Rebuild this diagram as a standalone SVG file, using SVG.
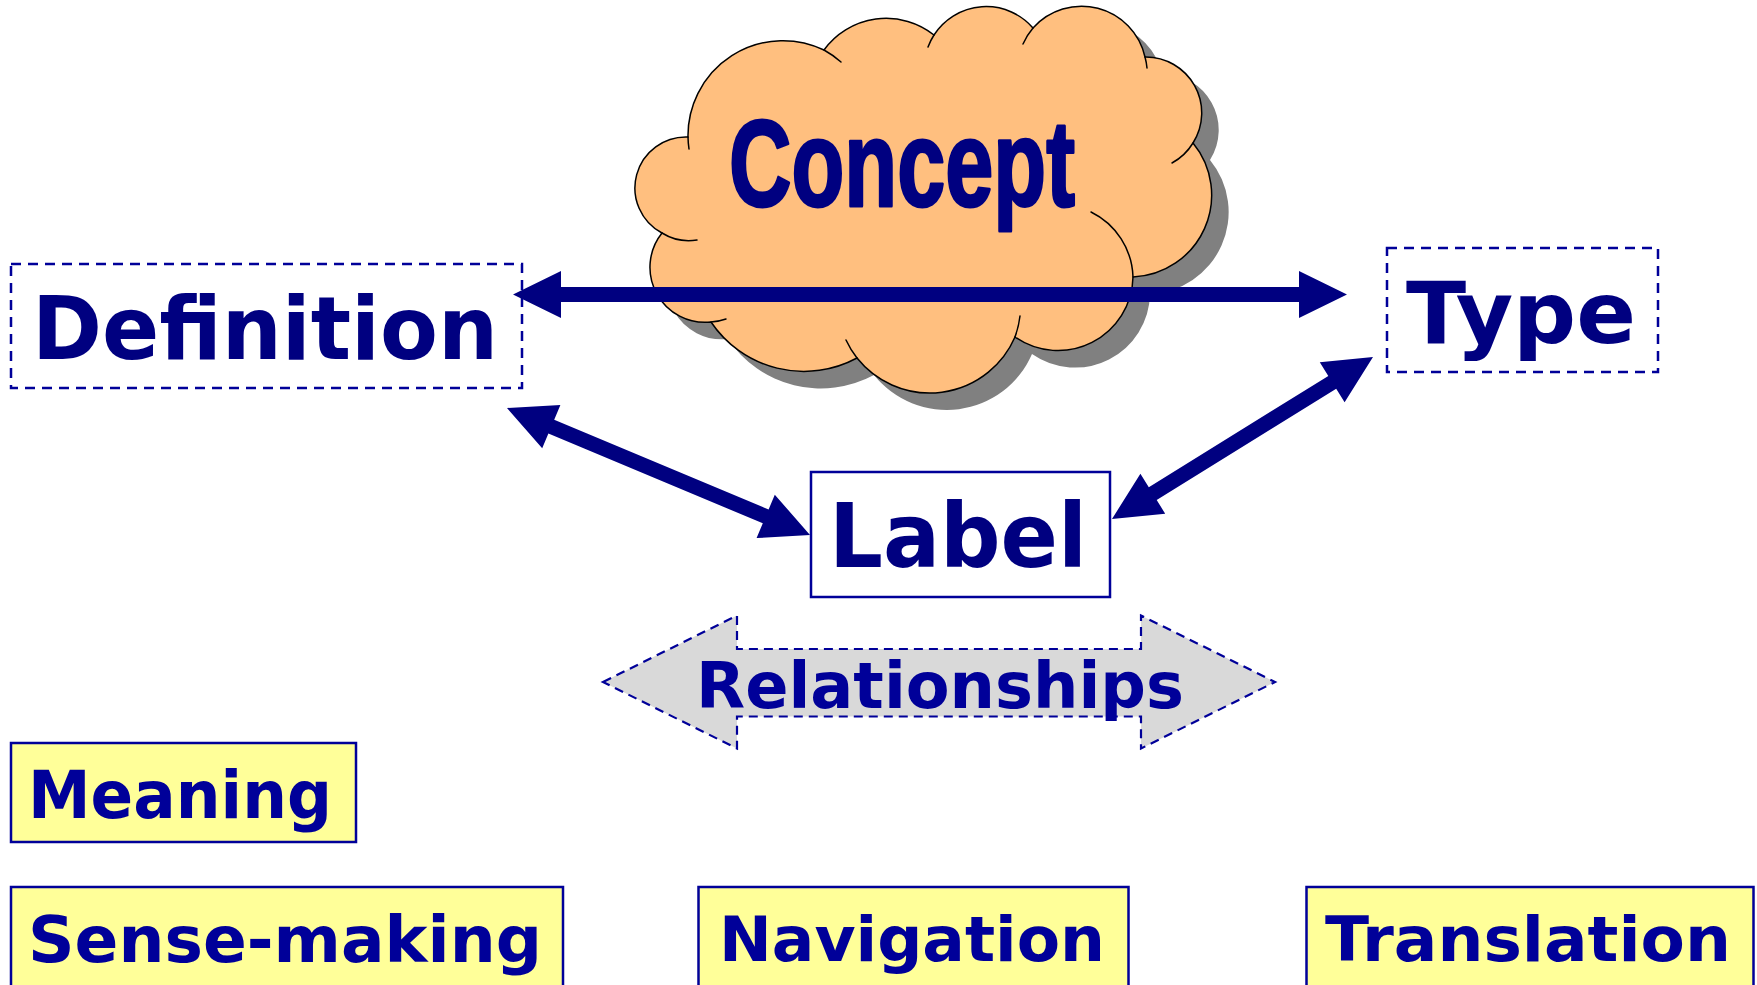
<svg xmlns="http://www.w3.org/2000/svg" width="1757" height="985" viewBox="0 0 1757 985">
  <style>
    .t { font-family: "DejaVu Sans", Verdana, sans-serif; font-weight: bold; }
    .navy { fill: #000080; }
    .blue { fill: #000099; }
    .dashbox { fill: none; stroke: #000099; stroke-width: 2.5; stroke-dasharray: 10 7; }
    .ybox { fill: #FFFF99; stroke: #000099; stroke-width: 2.5; }
    .arrow { fill: #000080; stroke: none; }
    .hook { fill: none; stroke: #000000; stroke-width: 1.5; stroke-linecap: round; }
  </style>
  <defs>
    <path id="cloudShape" d="M688,137 A95,95 0 0 1 824,50 A77,77 0 0 1 934,35 A62,62 0 0 1 1033,28 A65,65 0 0 1 1145,57 A56,56 0 0 1 1193,143 A82,82 0 0 1 1133,277 A75,75 0 0 1 1015,337 A93,93 0 0 1 857,358 A112,112 0 0 1 711,322 A55,55 0 0 1 662,233 A51,51 0 0 1 688,137 Z"/>
  </defs>
  <rect x="0" y="0" width="1757" height="985" fill="#FFFFFF"/>

  <g id="concept">
    <use href="#cloudShape" transform="translate(17,17)" fill="#808080"/>
    <use href="#cloudShape" fill="#FFBF7F" stroke="#000000" stroke-width="1.5"/>
    <path class="hook" d="M688,137 A95,95 0 0 0 689,149"/>
    <path class="hook" d="M824,50 A95,95 0 0 1 841,62"/>
    <path class="hook" d="M934,35 A62,62 0 0 0 928,47"/>
    <path class="hook" d="M1033,28 A65,65 0 0 0 1023,44"/>
    <path class="hook" d="M1145,57 A65,65 0 0 1 1147,68"/>
    <path class="hook" d="M1193,143 A56,56 0 0 1 1172,163"/>
    <path class="hook" d="M1133,277 A75,75 0 0 0 1091,212"/>
    <path class="hook" d="M1015,337 A93,93 0 0 0 1020,316"/>
    <path class="hook" d="M857,358 A93,93 0 0 1 846,340"/>
    <path class="hook" d="M711,322 A55,55 0 0 0 726,319"/>
    <path class="hook" d="M662,233 A51,51 0 0 0 697,240"/>
    <text x="729" y="206" font-family="'Liberation Sans', Arial, sans-serif" font-weight="bold" font-size="123" textLength="346" lengthAdjust="spacingAndGlyphs" fill="#000080" stroke="#000080" stroke-width="3" stroke-linejoin="round">Concept</text>
  </g>

  <g id="definition">
    <rect class="dashbox" x="11" y="264" width="511" height="124"/>
    <text class="t navy" x="32" y="359" font-size="88" textLength="466" lengthAdjust="spacingAndGlyphs">Definition</text>
  </g>

  <g id="type">
    <rect class="dashbox" x="1387" y="248" width="271" height="124"/>
    <text class="t navy" x="1406" y="343" font-size="86" textLength="230" lengthAdjust="spacingAndGlyphs">Type</text>
  </g>

  <g id="label">
    <rect x="811" y="472" width="299" height="125" fill="#FFFFFF" stroke="#000099" stroke-width="2.5"/>
    <text class="t navy" x="829" y="567" font-size="89" textLength="258" lengthAdjust="spacingAndGlyphs">Label</text>
  </g>

  <g id="connectors">
    <polygon class="arrow" points="513,294.5 561,318 561,302 1299,302 1299,318 1347,294.5 1299,271 1299,287 561,287 561,271"/>
    <polygon class="arrow" points="507,408 542.2,448.3 548.4,433.5 762.8,523.3 756.6,538.1 810,535 774.8,494.7 768.6,509.5 554.2,419.7 560.4,404.9"/>
    <polygon class="arrow" points="1373,357 1319.8,362.3 1328.3,375.9 1148.8,487.3 1140.4,473.7 1112,519 1165.2,513.7 1156.7,500.1 1336.2,388.7 1344.6,402.3"/>
  </g>

  <g id="relationships">
    <polygon points="603,682 737,615.5 737,649 1141,649 1141,615.5 1275,682 1141,748.5 1141,716.5 737,716.5 737,748.5" fill="#D9D9D9" stroke="#000099" stroke-width="2.2" stroke-dasharray="9 6"/>
    <text class="t blue" x="696" y="708" font-size="64" textLength="488" lengthAdjust="spacingAndGlyphs">Relationships</text>
  </g>

  <g id="meaning">
    <rect class="ybox" x="11" y="743" width="345" height="99"/>
    <text class="t blue" x="28" y="818" font-size="65" textLength="304" lengthAdjust="spacingAndGlyphs">Meaning</text>
  </g>

  <g id="sense-making">
    <rect class="ybox" x="11" y="887" width="552" height="120"/>
    <text class="t blue" x="28" y="962" font-size="64" textLength="514" lengthAdjust="spacingAndGlyphs">Sense-making</text>
  </g>

  <g id="navigation">
    <rect class="ybox" x="698.5" y="887" width="430" height="120"/>
    <text class="t blue" x="719" y="961" font-size="63" textLength="386" lengthAdjust="spacingAndGlyphs">Navigation</text>
  </g>

  <g id="translation">
    <rect class="ybox" x="1306.5" y="887" width="447" height="120"/>
    <text class="t blue" x="1325" y="961" font-size="63" textLength="406" lengthAdjust="spacingAndGlyphs">Translation</text>
  </g>
</svg>
